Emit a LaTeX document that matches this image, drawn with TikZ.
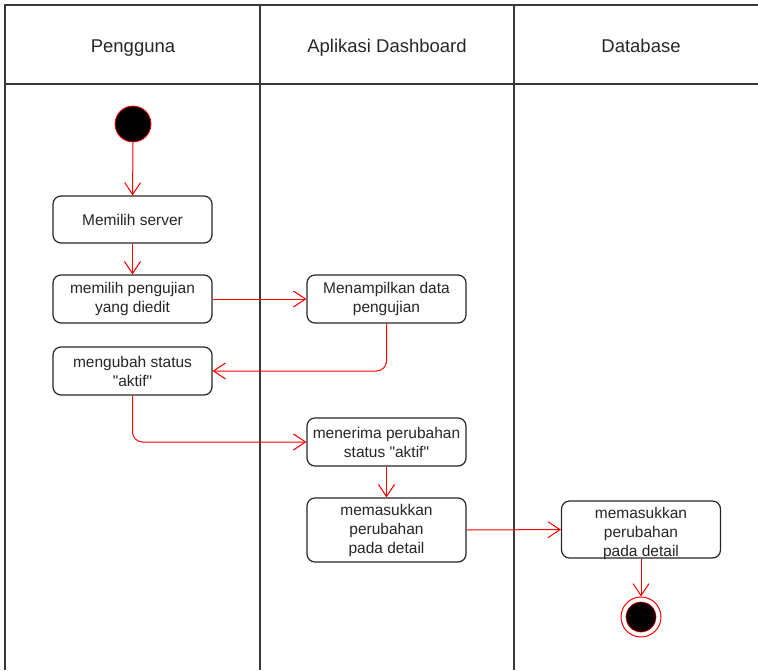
\documentclass[tikz,border=0pt]{standalone}
\usepackage{fontspec}
\setmainfont{Liberation Sans}
% a plain family without TeX ligatures keeps straight double quotes
\newfontfamily\lsans{Liberation Sans}
\usetikzlibrary{arrows.meta}
\begin{document}
\begin{tikzpicture}[x=1pt,y=-1pt,
  lane/.style={draw=black!78, line width=1.4pt},
  act/.style={draw=black!85, line width=1.2pt, rounded corners=8pt, fill=white,
    minimum width=159pt, minimum height=48pt, align=center, inner sep=2pt,
    font=\lsans\fontsize{15.5}{19}\selectfont, text=black!85},
  acttext/.style={align=center, inner sep=0pt, font=\lsans\fontsize{15.5}{19}\selectfont, text=black!85},
  flow/.style={draw=red, line width=1pt, -{Straight Barb[length=12pt,width=16pt]}, rounded corners=10pt},
  head/.style={anchor=base, font=\lsans\fontsize{18.5}{22}\selectfont, text=black!85}]
\useasboundingbox (0,0) rectangle (758,670);

% swimlane frame
\draw[lane] (5,670) -- (5,5) -- (758,5);
\draw[lane] (5,84) -- (758,84);
\draw[lane] (260,5) -- (260,670);
\draw[lane] (514,5) -- (514,670);

% lane titles
\node[head] (h1) at (133,52) {Pengguna};
\node[head] (h2) at (387,52) {Aplikasi Dashboard};
\node[head] (h3) at (641,52) {Database};

% start and end
\node[circle, fill=black, draw=red, line width=0.8pt, minimum size=36pt, inner sep=0pt] (start) at (133,124) {};
\node[circle, draw=red, line width=1pt, minimum size=40pt, inner sep=0pt] (end) at (641,617) {};
\node[circle, fill=black, draw=red, line width=0.6pt, minimum size=30pt, inner sep=0pt] (endin) at (641,617) {};

% activities
\node[act, minimum height=47pt] (sel) at (132.5,219.5) {Memilih server};
\node[act] (pick) at (132.5,299) {memilih pengujian\\yang diedit};
\node[act] (chg) at (132.5,371) {mengubah status\\"aktif"};
\node[act] (show) at (386.5,299) {Menampilkan data\\pengujian};
\node[act] (recv) at (386.5,442) {menerima perubahan\\status "aktif"};
\node[act, minimum height=64pt] (save) at (386.5,530) {memasukkan\\perubahan\\ pada detail};
\node[act, minimum height=57pt] (store) at (641,529.5) {};
\node[acttext] (storetxt) at (641,533) {memasukkan\\perubahan\\pada detail};

% control flow
\draw[flow] (start) -- (sel);
\draw[flow] (sel) -- (pick);
\draw[flow] (pick) -- (show);
\draw[flow] (show.south) |- (chg.east);
\draw[flow] (chg.south) |- (recv.west);
\draw[flow] (recv) -- (save);
\draw[flow] (save) -- (store);
\draw[flow] (store) -- (end);
\end{tikzpicture}
\end{document}
